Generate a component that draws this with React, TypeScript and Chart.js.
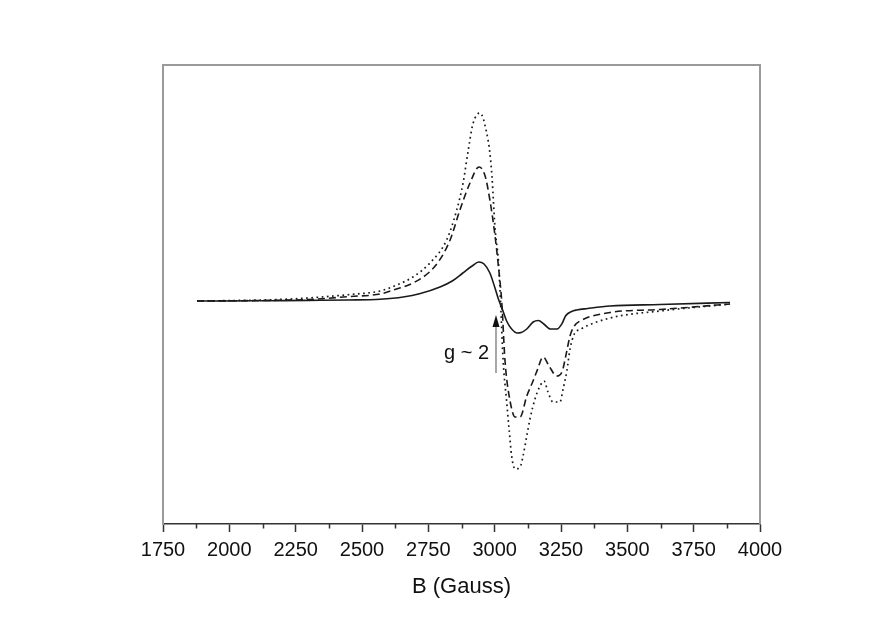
import React, { useEffect, useRef } from "react";
import { Chart, registerables } from "chart.js";

Chart.register(...registerables);

// X axis (magnetic field, Gauss)
const xMin = 1750;
const xMax = 4000;
const xStep = 250;
const minorTickValues = [1875, 2125, 2375, 2625, 2875, 3125, 3375, 3625, 3875];
const xTitle = "B (Gauss)";

// Arbitrary intensity axis (no labels)
const yMin = -223;
const yMax = 236;

// Solid spectrum
const solidField = [1878, 2000, 2150, 2300, 2450, 2568, 2655, 2720, 2794, 2840, 2880, 2915, 2940, 2960, 2982, 3000, 3014, 3030, 3045, 3064, 3085, 3100, 3121, 3145, 3165, 3185, 3210, 3235, 3255, 3267, 3290, 3309, 3350, 3435, 3623, 3887];
const solidSignal = [0, 0, 0.3, 0.6, 1, 1.8, 4, 7.5, 14, 20, 28, 35, 39, 37, 28, 14, 2, -9, -20, -28, -32, -31.5, -28, -21, -19.5, -23, -28, -28, -22, -15, -10.5, -9, -7.5, -5, -3.5, -1.5];

// Dashed spectrum
const dashedField = [1878, 2000, 2150, 2300, 2455, 2568, 2630, 2692, 2750, 2790, 2832, 2869, 2907, 2941, 2964, 2982, 3000, 3014, 3027, 3039, 3058, 3077, 3096, 3121, 3140, 3158, 3183, 3205, 3234, 3255, 3268, 3284, 3300, 3322, 3435, 3623, 3887];
const dashedSignal = [0, 0.2, 0.6, 1.5, 4.5, 7, 12, 18, 28, 40, 61, 91, 118, 134, 125, 101, 68, 35, -2, -60, -100, -116, -116, -95, -83, -71, -56, -65, -75, -70, -55, -35, -25, -20, -11.5, -8.5, -3];

// Dotted spectrum
const dottedField = [1878, 2000, 2150, 2266, 2455, 2568, 2631, 2692, 2756, 2819, 2857, 2881, 2900, 2918, 2945, 2970, 2982, 2990, 3001, 3014, 3022, 3032, 3045, 3055, 3064, 3077, 3096, 3107, 3121, 3133, 3152, 3171, 3186, 3201, 3220, 3246, 3258, 3272, 3284, 3300, 3322, 3435, 3623, 3887];
const dottedSignal = [0, 0.4, 1.2, 2.5, 6.5, 10, 16, 24, 38, 61, 91, 118, 150, 177, 188, 168, 148, 124, 74, 40, 0, -60, -100, -130, -155, -168, -166, -155, -135, -118, -98, -85, -80, -91, -101, -101, -88, -70, -48, -33, -28.5, -17, -10, -3];

// Annotation
const annotationText = "g ~ 2";
const arrowField = 3005;
const arrowFrom = -72;
const arrowTo = -14;
const textField = 2979;
const textSignal = -52;

const FONT = "'Liberation Sans', Arial, sans-serif";

function toPoints(xs: number[], ys: number[]) {
  return xs.map((x, i) => ({ x, y: ys[i] }));
}

const extrasPlugin = {
  id: "extras",
  afterDraw(chart: any) {
    const { ctx, chartArea, scales } = chart;
    const xs = scales.x;
    const ys = scales.y;
    ctx.save();
    // top & right frame
    ctx.strokeStyle = "#9a9a9a";
    ctx.lineWidth = 2;
    ctx.beginPath();
    ctx.moveTo(chartArea.left, chartArea.top);
    ctx.lineTo(chartArea.right, chartArea.top);
    ctx.lineTo(chartArea.right, chartArea.bottom);
    ctx.stroke();
    // minor ticks
    ctx.strokeStyle = "#333";
    ctx.lineWidth = 1.5;
    ctx.beginPath();
    for (const v of minorTickValues) {
      const px = Math.round(xs.getPixelForValue(v)) + 0.5;
      ctx.moveTo(px, chartArea.bottom);
      ctx.lineTo(px, chartArea.bottom + 4.5);
    }
    ctx.stroke();
    // arrow
    const ax = xs.getPixelForValue(arrowField);
    const ay0 = ys.getPixelForValue(arrowFrom);
    const ay1 = ys.getPixelForValue(arrowTo);
    ctx.strokeStyle = "#8a8a8a";
    ctx.lineWidth = 1.5;
    ctx.beginPath();
    ctx.moveTo(ax, ay0);
    ctx.lineTo(ax, ay1 + 10);
    ctx.stroke();
    ctx.fillStyle = "#111";
    ctx.beginPath();
    ctx.moveTo(ax, ay1);
    ctx.lineTo(ax - 3.5, ay1 + 12);
    ctx.lineTo(ax + 3.5, ay1 + 12);
    ctx.closePath();
    ctx.fill();
    // text
    ctx.fillStyle = "#111";
    ctx.font = `20px ${FONT}`;
    ctx.textAlign = "right";
    ctx.textBaseline = "middle";
    ctx.fillText(annotationText, xs.getPixelForValue(textField), ys.getPixelForValue(textSignal));
    ctx.restore();
  },
};

export default function App() {
  const ref = useRef<HTMLCanvasElement | null>(null);
  useEffect(() => {
    if (!ref.current) return;
    const lineColor = "#1a1a1a";
    const chart = new Chart(ref.current, {
      type: "line",
      data: {
        datasets: [
          {
            label: "solid",
            data: toPoints(solidField, solidSignal),
            borderColor: lineColor,
            borderWidth: 1.6,
            pointRadius: 0,
            cubicInterpolationMode: "monotone",
          },
          {
            label: "dashed",
            data: toPoints(dashedField, dashedSignal),
            borderColor: lineColor,
            borderWidth: 1.6,
            borderDash: [7, 4],
            pointRadius: 0,
            cubicInterpolationMode: "monotone",
          },
          {
            label: "dotted",
            data: toPoints(dottedField, dottedSignal),
            borderColor: lineColor,
            borderWidth: 1.7,
            borderDash: [1.7, 3.5],
            pointRadius: 0,
            cubicInterpolationMode: "monotone",
          },
        ],
      },
      options: {
        responsive: false,
        animation: false,
        devicePixelRatio: 1,
        layout: { padding: { left: 163, top: 65, right: 113, bottom: 0 } },
        plugins: { legend: { display: false }, tooltip: { enabled: false } },
        scales: {
          x: {
            type: "linear",
            min: xMin,
            max: xMax,
            afterFit: (s: any) => {
              s.height = 97;
            },
            ticks: {
              stepSize: xStep,
              color: "#111",
              padding: 6,
              maxRotation: 0,
              autoSkip: false,
              font: { family: FONT, size: 20 },
              callback: (v: any) => String(v),
            },
            grid: {
              drawOnChartArea: false,
              drawTicks: true,
              tickLength: 8,
              tickColor: "#333",
              tickWidth: 1.5,
            },
            border: { display: true, color: "#333", width: 1.5 },
            title: {
              display: true,
              text: xTitle,
              color: "#111",
              font: { family: FONT, size: 22 },
              padding: { top: 0, bottom: 21 },
            },
          },
          y: {
            type: "linear",
            min: yMin,
            max: yMax,
            afterFit: (s: any) => {
              s.width = 0;
            },
            ticks: { display: false },
            grid: { display: false, drawTicks: false },
            border: { display: true, color: "#9a9a9a", width: 2 },
          },
        },
      },
      plugins: [extrasPlugin],
    } as any);
    return () => chart.destroy();
  }, []);
  return (
    <div style={{ position: "absolute", left: 0, top: 0, width: 873, height: 621, background: "#fff" }}>
      <canvas ref={ref} width={873} height={621} style={{ width: 873, height: 621 }} />
    </div>
  );
}
